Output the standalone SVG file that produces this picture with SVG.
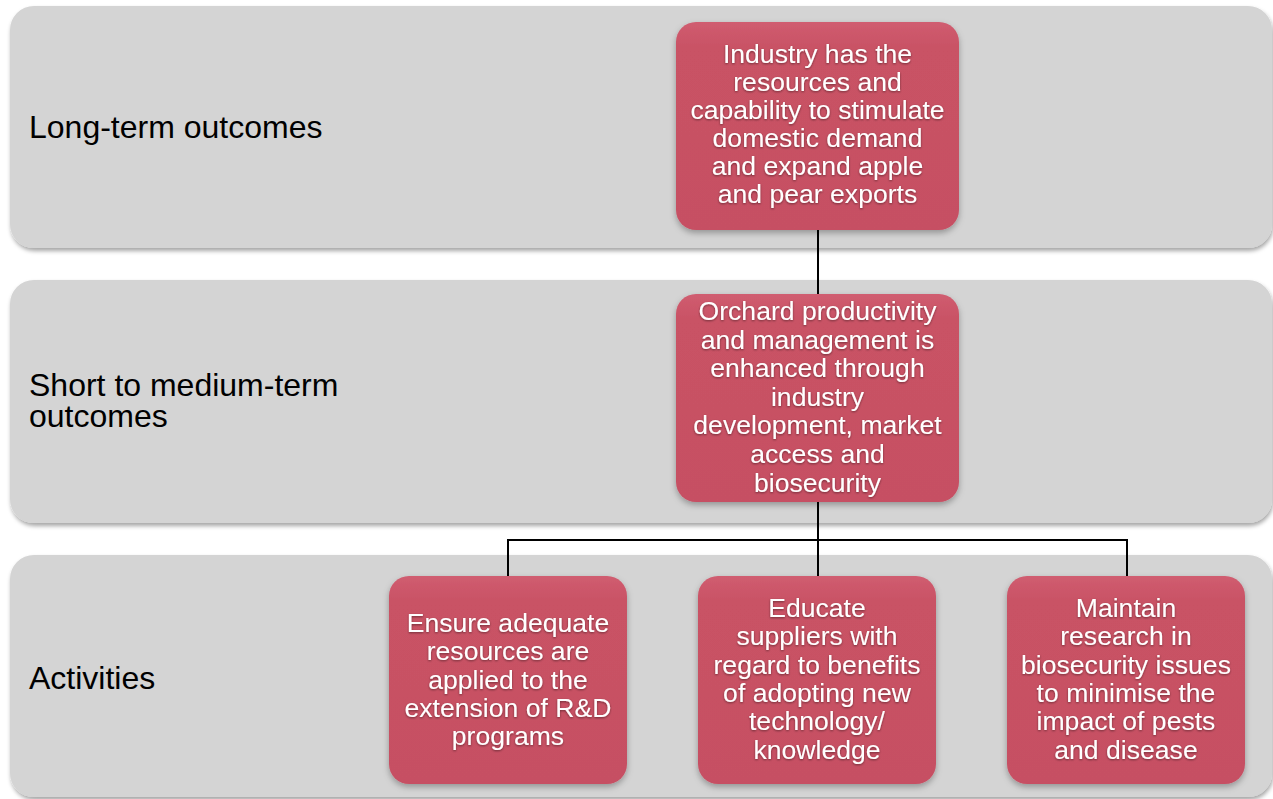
<svg xmlns="http://www.w3.org/2000/svg" width="1273" height="799" viewBox="0 0 1273 799">
  <defs>
    <filter id="bandShadow" x="-5%" y="-10%" width="110%" height="125%">
      <feDropShadow dx="1" dy="3" stdDeviation="2" flood-color="#000" flood-opacity="0.35"/>
    </filter>
    <filter id="nodeShadow" x="-10%" y="-10%" width="120%" height="130%">
      <feDropShadow dx="0" dy="3" stdDeviation="3" flood-color="#000" flood-opacity="0.3"/>
    </filter>
    <filter id="textGlow" x="-10%" y="-20%" width="120%" height="140%">
      <feDropShadow dx="0" dy="1" stdDeviation="1.2" flood-color="#000" flood-opacity="0.45"/>
    </filter>
    <linearGradient id="nodeFill" x1="0" y1="0" x2="0" y2="1">
      <stop offset="0" stop-color="#D05D70"/>
      <stop offset="0.12" stop-color="#C95265"/>
      <stop offset="1" stop-color="#C65063"/>
    </linearGradient>
  </defs>
  <style>
    .band { fill: #D4D4D4; filter: url(#bandShadow); }
    .band-label { font-family: "Liberation Sans", Arial, sans-serif; font-size: 32px; fill: #000; }
    .node rect { fill: url(#nodeFill); filter: url(#nodeShadow); }
    .node text { font-family: "Liberation Sans", Arial, sans-serif; font-size: 26.6px; fill: #fff; text-anchor: middle; filter: url(#textGlow); }
    .conn { stroke: #000; stroke-width: 2; fill: none; }
  </style>

  <!-- horizontal tiers -->
  <g id="tier-long">
    <rect class="band" x="10" y="6" width="1262" height="242" rx="24" ry="24"/>
    <text class="band-label" x="29" y="138">Long-term outcomes</text>
  </g>
  <g id="tier-short">
    <rect class="band" x="10" y="280" width="1262" height="243" rx="24" ry="24"/>
    <text class="band-label" x="29" y="396">Short to medium-term<tspan x="29" dy="31">outcomes</tspan></text>
  </g>
  <g id="tier-activities">
    <rect class="band" x="10" y="555" width="1262" height="242" rx="24" ry="24"/>
    <text class="band-label" x="29" y="689">Activities</text>
  </g>

  <!-- connectors -->
  <g id="connectors">
    <line class="conn" x1="818" y1="228" x2="818" y2="296"/>
    <polyline class="conn" points="818,500 818,578"/>
    <polyline class="conn" points="508,578 508,540 1127,540 1127,578"/>
  </g>

  <!-- nodes -->
  <g id="node-industry" class="node">
    <rect x="676" y="22" width="283" height="208" rx="20" ry="20"/>
    <text x="817.5" y="63">Industry has the</text>
    <text x="817.5" y="91">resources and</text>
    <text x="817.5" y="119">capability to stimulate</text>
    <text x="817.5" y="147">domestic demand</text>
    <text x="817.5" y="175">and expand apple</text>
    <text x="817.5" y="203">and pear exports</text>
  </g>

  <g id="node-orchard" class="node">
    <rect x="676" y="294" width="283" height="208" rx="20" ry="20"/>
    <text x="817.5" y="320">Orchard productivity</text>
    <text x="817.5" y="348.6">and management is</text>
    <text x="817.5" y="377.2">enhanced through</text>
    <text x="817.5" y="405.8">industry</text>
    <text x="817.5" y="434.4">development, market</text>
    <text x="817.5" y="463">access and</text>
    <text x="817.5" y="491.6">biosecurity</text>
  </g>

  <g id="node-resources" class="node">
    <rect x="389" y="576" width="238" height="208" rx="20" ry="20"/>
    <text x="508" y="632">Ensure adequate</text>
    <text x="508" y="660.3">resources are</text>
    <text x="508" y="688.6">applied to the</text>
    <text x="508" y="716.9">extension of R&amp;D</text>
    <text x="508" y="745.2">programs</text>
  </g>

  <g id="node-educate" class="node">
    <rect x="698" y="576" width="238" height="208" rx="20" ry="20"/>
    <text x="817" y="617">Educate</text>
    <text x="817" y="645.3">suppliers with</text>
    <text x="817" y="673.6">regard to benefits</text>
    <text x="817" y="701.9">of adopting new</text>
    <text x="817" y="730.2">technology/</text>
    <text x="817" y="758.5">knowledge</text>
  </g>

  <g id="node-biosecurity" class="node">
    <rect x="1007" y="576" width="238" height="208" rx="20" ry="20"/>
    <text x="1126" y="617">Maintain</text>
    <text x="1126" y="645.3">research in</text>
    <text x="1126" y="673.6">biosecurity issues</text>
    <text x="1126" y="701.9">to minimise the</text>
    <text x="1126" y="730.2">impact of pests</text>
    <text x="1126" y="758.5">and disease</text>
  </g>
</svg>
